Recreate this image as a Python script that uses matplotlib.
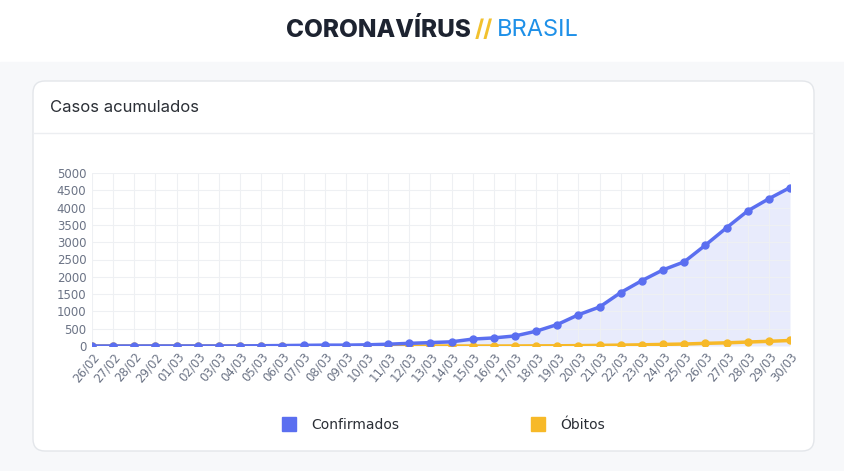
import matplotlib
matplotlib.use("Agg")
import matplotlib.pyplot as plt
from matplotlib.patches import FancyBboxPatch
from matplotlib.lines import Line2D

dates = ["26/02","27/02","28/02","29/02"] + [f"{d:02d}/03" for d in range(1,31)]
confirmados = [1,1,1,2,2,2,2,3,8,13,19,25,25,34,52,77,98,121,200,234,291,428,621,904,1128,1546,1891,2201,2433,2915,3417,3904,4256,4579]
obitos = [0]*20 + [1,4,6,11,18,25,34,46,57,77,92,114,136,159]
yticks = list(range(0,5001,500))

W,H = 845,471
fig = plt.figure(figsize=(W/100,H/100), dpi=100)
fig.patch.set_facecolor("white")
bg = fig.add_axes([0,0,1,1]); bg.set_xlim(0,W); bg.set_ylim(H,0); bg.axis("off")
bg.add_patch(plt.Rectangle((0,62),W,H-62,color="#f7f8fa",zorder=0))
bg.add_patch(FancyBboxPatch((33,81),781,370,boxstyle="round,pad=0,rounding_size=12",fc="white",ec="#e3e6ea",lw=1,zorder=1))
bg.plot([33,814],[133,133],color="#eceef1",lw=1,zorder=2)
bg.text(50,107,"Casos acumulados",fontsize=12,color="#2b2f36",va="center",family="Inter",zorder=3)
bg.text(286,30,"CORONAVÍRUS",fontsize=17.5,fontweight="heavy",color="#1d2330",va="center",family="Inter")
bg.text(475,30,"//",fontsize=17,fontweight="bold",color="#f2c12e",va="center",family="Inter")
bg.text(497,30,"BRASIL",fontsize=17,color="#1e90e8",va="center",family="Inter")

ax = fig.add_axes([92/W,1-346/H,(790-92)/W,(346-173)/H])
x = list(range(len(dates)))
ax.fill_between(x,confirmados,color="#6a7ff0",alpha=0.15,lw=0)
ax.plot(x,obitos,color="#f7b928",lw=2.5,marker="o",ms=5,zorder=3)
ax.plot(x,confirmados,color="#5b6ff0",lw=2.5,marker="o",ms=5,zorder=4)
ax.set_xlim(0,len(dates)-1); ax.set_ylim(0,5000)
ax.set_yticks(yticks); ax.set_xticks(x)
ax.set_xticklabels(dates,rotation=50,ha="right",rotation_mode="anchor",fontsize=8.5,color="#6b7385")
ax.tick_params(axis="y",labelsize=8.5,labelcolor="#6b7385",length=0,pad=4)
ax.tick_params(axis="x",length=0,pad=3)
ax.grid(True,color="#eef0f3",lw=0.8)
for s in ax.spines.values(): s.set_visible(False)
ax.set_facecolor("none")

h=[Line2D([],[],marker="s",ls="",ms=10,color="#5b6ff0"),Line2D([],[],marker="s",ls="",ms=10,color="#f7b928")]
fig.legend(h,["Confirmados","Óbitos"],loc="center",bbox_to_anchor=(440/W,1-425/H),ncol=2,frameon=False,
           fontsize=10,columnspacing=9,handletextpad=0.6,labelcolor="#2b2f36")
fig.savefig("out.png",dpi=100)
